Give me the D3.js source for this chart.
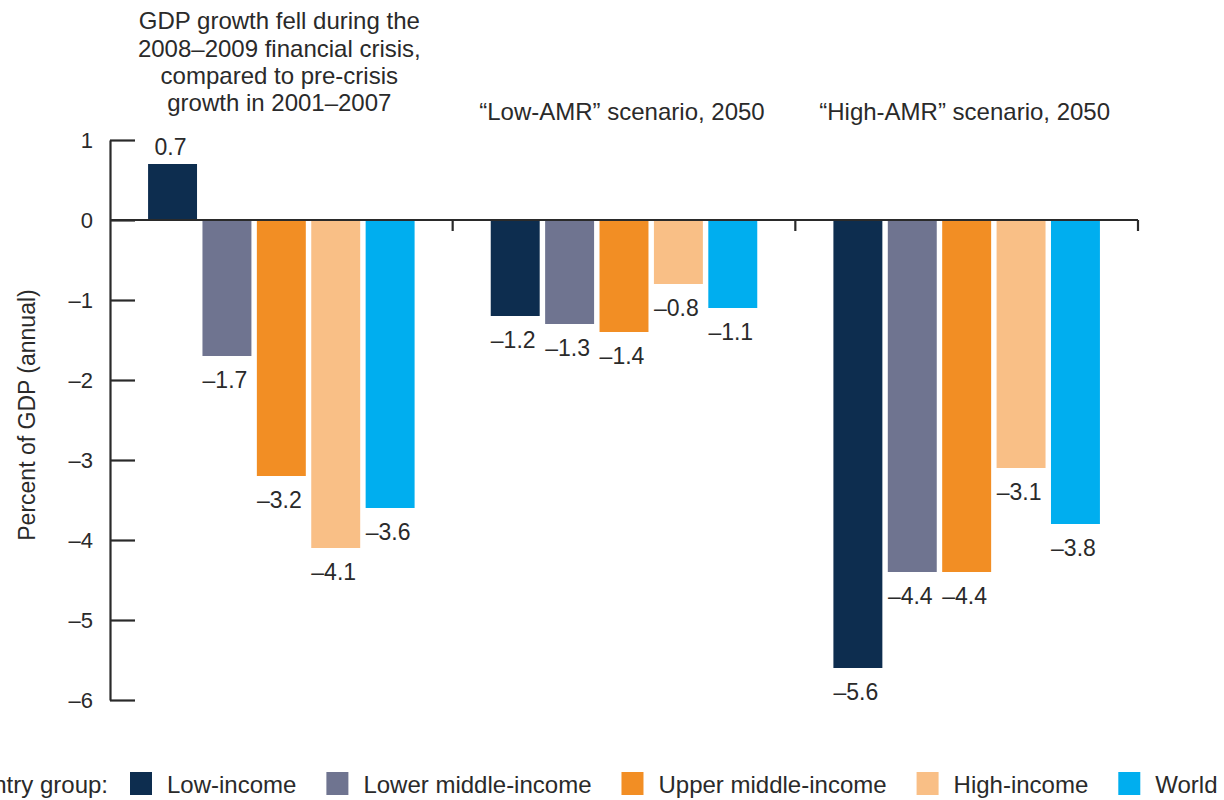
<!DOCTYPE html>
<html>
<head>
<meta charset="utf-8">
<script src="https://cdn.jsdelivr.net/npm/d3@7"></script>
<style>
  html, body { margin: 0; padding: 0; background: #fff; }
  svg { display: block; font-family: "Liberation Sans", Arial, Helvetica, sans-serif; }
  text { fill: #2a2a2a; }
</style>
</head>
<body>
<svg id="chart" width="1224" height="800"></svg>
<script>
// Panels (groups of bars) and their headings
const groups = ["crisis", "low", "high"];
const groupTitles = [
  ["GDP growth fell during the", "2008\u20132009 financial crisis,", "compared to pre-crisis", "growth in 2001\u20132007"],
  ["\u201cLow-AMR\u201d scenario, 2050"],
  ["\u201cHigh-AMR\u201d scenario, 2050"]
];

// Country groups (series)
const series = ["Low-income", "Lower middle-income", "Upper middle-income", "High-income", "World"];
const colors = ["#0d2d4f", "#6f7490", "#f28e24", "#f9bf86", "#00aeef"];

// Change in GDP, percent (annual), one array per panel in series order
const crisisValues = [0.7, -1.7, -3.2, -4.1, -3.6];
const lowAmrValues = [-1.2, -1.3, -1.4, -0.8, -1.1];
const highAmrValues = [-5.6, -4.4, -4.4, -3.1, -3.8];

const yTicks = [1, 0, -1, -2, -3, -4, -5, -6];
const yTitle = "Percent of GDP (annual)";
const legendTitle = "Country group:";

const valuesByGroup = [crisisValues, lowAmrValues, highAmrValues];
const data = [];
groups.forEach((g, gi) => {
  series.forEach((s, si) => data.push({ group: g, series: s, value: valuesByGroup[gi][si] }));
});

const fmt = v => (v < 0 ? "\u2013" + d3.format(".1f")(-v) : d3.format(".1f")(v));
const fmtTick = v => (v < 0 ? "\u2013" + Math.abs(v) : String(v));

const svg = d3.select("#chart");
const ink = "#2a2a2a";

const plotLeft = 110, plotRight = 1138, plotTop = 140, plotBottom = 700;

const x0 = d3.scaleBand().domain(groups).range([plotLeft, plotRight]).padding(0);
const x1 = d3.scaleBand().domain(series).range([0, x0.bandwidth()]).paddingInner(0.1).paddingOuter(0.7);
const y = d3.scaleLinear().domain([-6, 1]).range([plotBottom, plotTop]);
const color = d3.scaleOrdinal().domain(series).range(colors);

// Bars
svg.append("g").selectAll("rect")
  .data(data)
  .join("rect")
  .attr("x", d => x0(d.group) + x1(d.series))
  .attr("width", x1.bandwidth())
  .attr("y", d => y(Math.max(0, d.value)))
  .attr("height", d => Math.abs(y(d.value) - y(0)))
  .attr("fill", d => color(d.series));

// Value labels
svg.append("g").selectAll("text")
  .data(data)
  .join("text")
  .attr("x", d => x0(d.group) + x1(d.series) + x1.bandwidth() / 2 - 2)
  .attr("y", d => d.value >= 0 ? y(d.value) - 9 : y(d.value) + 32)
  .attr("text-anchor", "middle")
  .attr("font-size", 23)
  .text(d => fmt(d.value));

// Y axis with ticks pointing into the plot
const yAxis = d3.axisLeft(y)
  .tickValues(yTicks)
  .tickFormat(fmtTick)
  .tickSizeInner(-25)
  .tickSizeOuter(0)
  .tickPadding(17);

const yg = svg.append("g").attr("transform", `translate(${plotLeft},0)`).call(yAxis);
yg.select(".domain").attr("stroke", ink).attr("stroke-width", 2.2);
yg.selectAll(".tick line").attr("stroke", ink).attr("stroke-width", 2.2);
yg.selectAll(".tick text").attr("font-size", 22).attr("fill", ink)
  .attr("font-family", "'Liberation Sans', Arial, sans-serif");

// Zero baseline with separators between panels
svg.append("line")
  .attr("x1", plotLeft).attr("x2", plotRight)
  .attr("y1", y(0)).attr("y2", y(0))
  .attr("stroke", ink).attr("stroke-width", 2.2);

svg.append("g").selectAll("line")
  .data(groups)
  .join("line")
  .attr("x1", g => x0(g) + x0.bandwidth())
  .attr("x2", g => x0(g) + x0.bandwidth())
  .attr("y1", y(0))
  .attr("y2", y(0) + 11)
  .attr("stroke", ink).attr("stroke-width", 2.2);

// Panel headings (bottom-aligned, last line baseline given per panel)
const titleBaseline = [111, 120, 120];
const lineH = 27.2;
groups.forEach((g, gi) => {
  const lines = groupTitles[gi];
  const t = svg.append("text")
    .attr("text-anchor", "middle")
    .attr("font-size", 24);
  lines.forEach((ln, li) => {
    t.append("tspan")
      .attr("x", x0(g) + x0.bandwidth() / 2 - 2)
      .attr("y", titleBaseline[gi] - (lines.length - 1 - li) * lineH)
      .text(ln);
  });
});

// Y axis title
svg.append("text")
  .attr("transform", "translate(35,415) rotate(-90)")
  .attr("text-anchor", "middle")
  .attr("font-size", 23)
  .text(yTitle);

// Legend
const legY = 793;
const leg = svg.append("g");
leg.append("text")
  .attr("x", 108).attr("y", legY)
  .attr("text-anchor", "end")
  .attr("font-size", 24)
  .text(legendTitle);

let lx = 130;
series.forEach((s, i) => {
  leg.append("rect")
    .attr("x", lx).attr("y", 772)
    .attr("width", 22).attr("height", 23)
    .attr("fill", colors[i]);
  const t = leg.append("text")
    .attr("x", lx + 37).attr("y", legY)
    .attr("font-size", 24)
    .text(s);
  lx += 37 + t.node().getComputedTextLength() + 30;
});
</script>
</body>
</html>
